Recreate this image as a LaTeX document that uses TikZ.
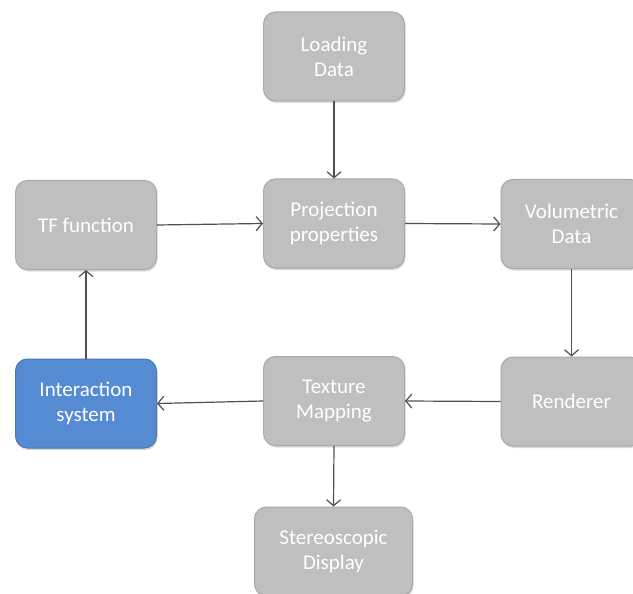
\documentclass[tikz,border=0pt]{standalone}
\usepackage{fontspec}
\setmainfont{Carlito}
\usetikzlibrary{arrows.meta,shadows}
\definecolor{boxgray}{RGB}{191,191,191}
\definecolor{boxedge}{RGB}{168,168,168}
\definecolor{boxblue}{RGB}{84,139,211}
\definecolor{blueedge}{RGB}{70,118,180}
\definecolor{arrowgray}{RGB}{80,80,80}
\tikzset{
  box/.style={draw=boxedge, fill=boxgray, line width=1pt, rounded corners=12pt,
    minimum width=141pt, minimum height=89pt, inner sep=0pt, align=center,
    text=white, font=\fontsize{21}{25}\selectfont,
    drop shadow={shadow xshift=1pt, shadow yshift=-2pt, opacity=0.25, fill=black!60}},
  bluebox/.style={box, draw=blueedge, fill=boxblue},
  conn/.style={draw=arrowgray, line width=1.2pt, -{Straight Barb[length=6pt,width=14pt]}}
}
\begin{document}
\begin{tikzpicture}[x=1pt,y=-1pt]
\useasboundingbox[fill=white] (0,0) rectangle (633,594);
\clip (0,0) rectangle (633,594);
\node[box] (load) at (334,56.5) {Loading\\Data};
\node[box] (tf) at (86,225) {TF function};
\node[box] (proj) at (334,223.5) {Projection\\properties};
\node[box] (vol) at (571.5,224) {Volumetric\\Data};
\node[bluebox] (inter) at (86,403.5) {Interaction\\system};
\node[box] (tex) at (334,401) {Texture\\Mapping};
\node[box] (rend) at (571.5,401.5) {Renderer};
\node[box, minimum width=158pt] (stereo) at (333.5,551.5) {Stereoscopic\\Display};
\draw[conn] (load) -- (proj);
\draw[conn] (tf.east) -- (proj.west);
\draw[conn] (proj.east) -- (vol.west);
\draw[conn] (vol.south) -- (rend.north);
\draw[conn] (rend.west) -- (tex.east);
\draw[conn] (tex.west) -- (inter.east);
\draw[conn] (inter.north) -- (tf.south);
\draw[conn] (tex.south) -- (stereo.north);
\end{tikzpicture}
\end{document}
